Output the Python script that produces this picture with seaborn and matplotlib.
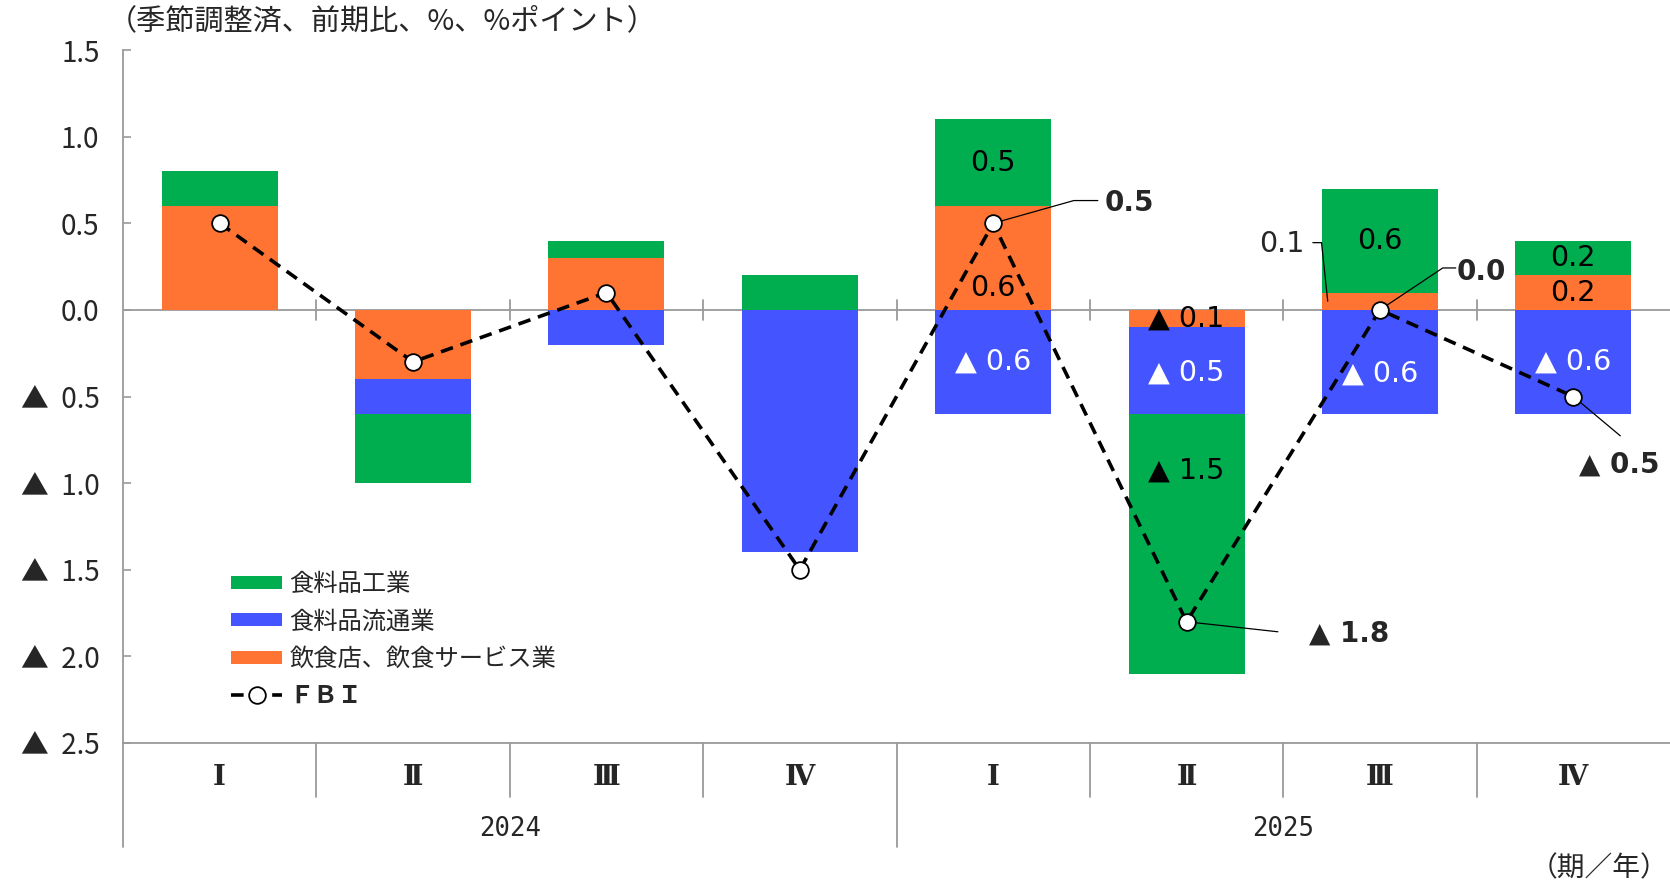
import matplotlib
matplotlib.use("Agg")
import numpy as np
import pandas as pd
import matplotlib.pyplot as plt
import seaborn as sns
from matplotlib.patches import Patch
from matplotlib.lines import Line2D

# ---- data -------------------------------------------------------------
quarter_labels = ["Ⅰ", "Ⅱ", "Ⅲ", "Ⅳ", "Ⅰ", "Ⅱ", "Ⅲ", "Ⅳ"]
year_labels = ["2024", "2025"]
periods = ["2024Q1", "2024Q2", "2024Q3", "2024Q4",
           "2025Q1", "2025Q2", "2025Q3", "2025Q4"]

food_manufacturing = [0.2, -0.4, 0.1, 0.2, 0.5, -1.5, 0.6, 0.2]      # 食料品工業
food_distribution = [0.0, -0.2, -0.2, -1.4, -0.6, -0.5, -0.6, -0.6]  # 食料品流通業
food_service = [0.6, -0.4, 0.3, 0.0, 0.6, -0.1, 0.1, 0.2]           # 飲食店、飲食サービス業
fbi = [0.5, -0.3, 0.1, -1.5, 0.5, -1.8, 0.0, -0.5]                    # ＦＢＩ

y_ticks = [1.5, 1.0, 0.5, 0.0, -0.5, -1.0, -1.5, -2.0, -2.5]
y_tick_labels = ["1.5", "1.0", "0.5", "0.0",
                 "▲  0.5", "▲  1.0", "▲  1.5", "▲  2.0", "▲  2.5"]

series_keys = ["service", "distribution", "manufacturing"]
series_values = [food_service, food_distribution, food_manufacturing]

GREEN = "#00AE50"
BLUE = "#4455FF"
ORANGE = "#FF7433"
GRID = "#9A9A9A"
series_colors = [ORANGE, BLUE, GREEN]

JP = ["Noto Sans CJK JP", "DejaVu Sans"]
LAT = ["DejaVu Sans", "Noto Sans CJK JP"]
MONO = ["DejaVu Sans Mono", "Noto Sans CJK JP"]

sns.set_theme(style="white")
plt.rcParams["font.family"] = JP

fig = plt.figure(figsize=(16.7, 8.83), dpi=100)
ax = fig.add_axes([123 / 1670, 1 - 743 / 883, 1 - 123 / 1670, (743 - 50) / 883])

# ---- diverging stacked bars ------------------------------------------
pos_base = np.zeros(len(periods))
neg_base = np.zeros(len(periods))
segments = {}
for key, vals, color in zip(series_keys, series_values, series_colors):
    vals = np.asarray(vals, dtype=float)
    bottoms = np.where(vals >= 0, pos_base, neg_base)
    df = pd.DataFrame({"period": periods, "value": vals})
    sns.barplot(data=df, x="period", y="value", order=periods, bottom=bottoms,
                color=color, saturation=1, width=0.6, errorbar=None,
                linewidth=0, ax=ax, zorder=2)
    segments[key] = (bottoms, vals)
    pos_base = pos_base + np.where(vals > 0, vals, 0)
    neg_base = neg_base + np.where(vals < 0, vals, 0)

ax.set_xlim(-0.5, 7.5)
ax.set_ylim(-2.5, 1.5)

# zero line with boundary ticks
ax.axhline(0, color=GRID, lw=1.3, zorder=1)
for b in np.arange(0.5, 7.5, 1.0):
    ax.plot([b, b], [-0.058, 0.058], color=GRID, lw=1.3, zorder=1)

# ---- FBI line ---------------------------------------------------------
x_pos = np.arange(len(periods))
sns.lineplot(x=x_pos, y=fbi, color="black", lw=2.6, marker="o", markersize=12,
             markerfacecolor="white", markeredgecolor="black", markeredgewidth=1.3,
             ax=ax, zorder=5, sort=False)
ax.lines[-1].set_dashes((3.5, 2.2))


def fmt(v):
    return f"{v:.1f}" if v >= 0 else f"▲ {abs(v):.1f}"


# ---- segment labels (2025) ------------------------------------------
label_shift = {(4, "service"): -0.175, (5, "manufacturing"): 0.42,
               (6, "distribution"): -0.07, (5, "distribution"): -0.01}
for i in range(4, 8):
    for key in series_keys:
        bottoms, vals = segments[key]
        v = vals[i]
        if v == 0 or (i == 6 and key == "service"):
            continue
        y = bottoms[i] + v / 2 + label_shift.get((i, key), 0.0)
        color = "white" if key == "distribution" else "black"
        ax.text(i, y, fmt(v), ha="center", va="center", fontsize=20.5,
                color=color, family=LAT, zorder=4)

# small segment labelled outside with a leader
b, v = segments["service"][0][6], segments["service"][1][6]
ax.plot([5.653, 5.698, 5.73], [0.388, 0.388, b + v / 2], color="black", lw=0.9, zorder=3)
ax.text(5.612, 0.383, fmt(v), ha="right", va="center", fontsize=20.5, family=LAT, zorder=4)

# ---- FBI labels with leaders -----------------------------------------
fbi_labels = [
    (4, [(4.417, 0.631), (4.541, 0.631)], (4.575, 0.617), "left"),
    (5, [(5.472, -1.858)], (5.632, -1.870), "left"),
    (6, [(6.325, 0.242), (6.392, 0.242)], (6.398, 0.221), "left"),
    (7, [(7.243, -0.727)], (7.24, -0.894), "center"),
]
for i, path, (tx, ty), ha in fbi_labels:
    xs = [i] + [p[0] for p in path]
    ys = [fbi[i]] + [p[1] for p in path]
    ax.plot(xs, ys, color="black", lw=0.9, zorder=3)
    ax.text(tx, ty, fmt(fbi[i]), ha=ha, va="center", fontsize=20,
            fontweight="bold", family=LAT, zorder=6)

# ---- axes styling ----------------------------------------------------
for side in ["top", "right"]:
    ax.spines[side].set_visible(False)
for side in ["left", "bottom"]:
    ax.spines[side].set_color(GRID)
    ax.spines[side].set_linewidth(1.3)

ax.set_yticks(y_ticks)
ax.set_yticklabels(y_tick_labels, fontsize=20, family=JP)
ax.tick_params(axis="y", direction="in", length=6, width=1.2, color=GRID,
               pad=17, left=True)
ax.set_xticks([])
ax.set_xlabel("")
ax.set_ylabel("")

# category axis below the plot
xt = ax.get_xaxis_transform()
for b in np.arange(-0.5, 7.0, 1.0):
    low = -0.150 if b in (-0.5, 3.5) else -0.078
    ax.plot([b, b], [0, low], transform=xt, color=GRID, lw=1.3, clip_on=False)
for i, q in enumerate(quarter_labels):
    ax.text(i, -0.0505, q, transform=xt, ha="center", va="center", fontsize=20,
            family=["DejaVu Serif", "Noto Sans CJK JP"], fontweight="bold")
for j, yr in enumerate(year_labels):
    ax.text(1.5 + 4 * j, -0.124, yr, transform=xt, ha="center", va="center",
            fontsize=18.5, family=MONO)

fig.text(108 / 1670, 1 - 21 / 883, "（季節調整済、前期比、%、%ポイント）",
         ha="left", va="center", fontsize=21, family=JP)
fig.text(1668 / 1670, 1 - 868 / 883, "（期／年）", ha="right", va="center",
         fontsize=20, family=JP)

# ---- legend -----------------------------------------------------------
handles = [
    Patch(facecolor=GREEN, edgecolor="none"),
    Patch(facecolor=BLUE, edgecolor="none"),
    Patch(facecolor=ORANGE, edgecolor="none"),
    Line2D([], [], color="black", lw=2.6, dashes=(3.5, 2.2), marker="o",
           markersize=12, markerfacecolor="white", markeredgecolor="black",
           markeredgewidth=1.3),
]
labels = ["食料品工業", "食料品流通業", "飲食店、飲食サービス業", "ＦＢＩ"]
leg = ax.legend(handles, labels, loc="upper left", bbox_to_anchor=(0.0698, 0.248),
                frameon=False, handlelength=2.1, handleheight=0.45,
                handletextpad=0.3, labelspacing=0.47, borderpad=0, borderaxespad=0,
                prop={"family": JP, "size": 17.5})
leg.get_texts()[3].set_fontweight("bold")

fig.savefig("out.png", dpi=100)
